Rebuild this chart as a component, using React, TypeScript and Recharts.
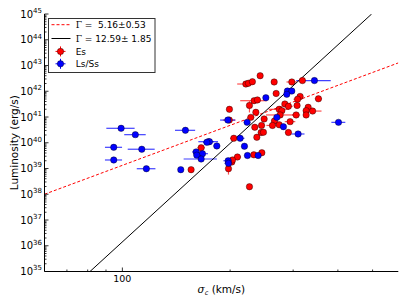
import React from 'react';
import { ComposedChart, XAxis, YAxis, Scatter, Line, ErrorBar, Legend } from 'recharts';

// ---- Es (red) ----
const esSigma = [242.6, 221.3, 225.0, 230.8, 265.5, 297.4, 318.4, 268.9, 233.4, 238.4, 313.7, 308.7, 353.0, 284.4, 291.0, 307.7, 226.5, 330.4, 199.1, 274.2, 278.9, 326.1, 340.0, 236.0, 275.9, 305.8, 326.1, 228.5, 248.9, 266.0, 294.2, 244.8, 262.6, 274.2, 234.4, 291.0, 244.2, 247.8, 237.5, 204.8, 198.9, 209.6, 232.9, 245.3, 202.2, 203.0, 197.9, 226.5, 166.0, 155.6];
const esLum = [4.0e42, 1.91e42, 2.04e42, 2.35e42, 2.29e42, 2.29e42, 2.6e42, 8.2e41, 4.3e41, 4.6e41, 6.3e41, 4.9e41, 5.1e41, 3.2e41, 2.6e41, 2.8e41, 2.8e41, 2.38e41, 1.99e41, 1.99e41, 1.76e41, 1.76e41, 1.7e41, 1.52e41, 1.2e41, 1.2e41, 1.2e41, 9.7e40, 8.4e40, 7.0e40, 6.6e40, 4.7e40, 4.7e40, 5.0e40, 4.0e40, 2.5e40, 2.5e40, 2.55e40, 1.63e40, 1.49e40, 7.6e40, 2.8e39, 3.4e39, 4.1e39, 1.79e39, 2.14e39, 9.8e38, 1.96e38, 6.4e39, 9.0e38];
const esSigmaErr = [4, 12, 5, 4, 5, 10, 4, 4, 20, 5, 6, 8, 8, 4, 8, 5, 2, 5, 3, 18, 6, 6, 20, 4, 24, 8, 6, 5, 5, 5, 10, 5, 10, 6, 4, 6, 4, 4, 4, 5, 8, 5, 4, 4, 4, 3, 2, 0, 4, 0];
const esLumErr = [0, 0, 0, 0, 0, 0, 0, 0, 0, 0, 0, 0, 0, 0, 0, 0, 1.3e41, 0, 0, 0, 0, 0, 0, 0, 0, 0, 0, 0, 0, 0, 0, 0, 0, 0, 0, 0, 0, 0, 0, 0, 0, 0, 0, 0, 0, 0, 4e38, 0, 0, 0];

// ---- Ls/Ss (blue) ----
const lsSigma = [99.2, 108.7, 94.6, 113.3, 94.6, 116.7, 150.0, 145.6, 174.0, 175.1, 172.2, 183.6, 160.7, 167.4, 161.4, 166.0, 197.5, 197.9, 197.1, 223.1, 251.7, 289.1, 297.4, 288.0, 344.0, 270.1, 281.8, 309.7, 213.3, 219.3, 223.6, 239.5, 401.6];
const lsLum = [3.64e40, 2.06e40, 6.65e39, 5.6e39, 2.14e39, 9.8e38, 3.04e40, 9.0e38, 1.1e40, 1.1e40, 1.04e40, 7.5e39, 4.4e39, 3.76e39, 3.3e39, 2.34e39, 2.0e39, 1.59e39, 7.6e40, 6.2e40, 5.6e41, 1.02e42, 1.02e42, 7.6e41, 2.6e42, 9.7e40, 4.2e40, 2.19e40, 1.49e40, 7.3e39, 3.2e39, 3.2e39, 6.2e40];
const lsSigmaErr = [9, 7.5, 5.2, 9.8, 5.2, 7, 9.7, 0, 11, 5, 4, 4, 4, 6, 3, 17.7, 6, 5, 9.6, 4.5, 4, 4, 4, 4, 38, 4, 5, 13, 6, 2, 4, 5, 18];

// ---- fits ----
const lowFitSigma = [60.6, 590];
const lowFitLum = [1.0e38, 1.26e43];
const highFitSigma = [81.2, 497];
const highFitLum = [1e35, 1e45];

// ---- axes ----
const xDomain = [60.6, 590];
const yDomain = [1e35, 1e45];
const xMajorTicks = [100];
const xMinorTicks = [70, 80, 90, 200, 300, 400, 500];
const yDecades = [35, 36, 37, 38, 39, 40, 41, 42, 43, 44, 45];
const yMinorMultipliers = [2, 3, 4, 5, 6, 7, 8, 9];

const xTicks = [...xMinorTicks.slice(0, 3), ...xMajorTicks, ...xMinorTicks.slice(3)];
const yTicks: number[] = [];
yDecades.forEach((d, i) => {
  yTicks.push(Number(`1e${d}`));
  if (i < yDecades.length - 1) yMinorMultipliers.forEach((m) => yTicks.push(Number(`${m}e${d}`)));
});

const esData = esSigma.map((s, i) => ({ sigma: s, lum: esLum[i], sErr: esSigmaErr[i], lErr: esLumErr[i] }));
const lsData = lsSigma.map((s, i) => ({ sigma: s, lum: lsLum[i], sErr: lsSigmaErr[i] }));
const lowFit = lowFitSigma.map((s, i) => ({ sigma: s, lum: lowFitLum[i] }));
const highFit = highFitSigma.map((s, i) => ({ sigma: s, lum: highFitLum[i] }));

const FONT = 'DejaVu Sans';

const isMajorY = (v: number) => {
  const e = Math.log10(v);
  return Math.abs(e - Math.round(e)) < 1e-6;
};

const BottomTick = (p: any) => {
  const { x, y, payload } = p;
  const major = xMajorTicks.includes(payload.value);
  return (
    <g>
      <line x1={x} x2={x} y1={y} y2={y - (major ? 4 : 2)} stroke="#000" strokeWidth={0.8} />
      {major && (
        <text x={x} y={y + 10.5} textAnchor="middle" fontSize={9.5} fontFamily={FONT} fill="#000">
          {payload.value}
        </text>
      )}
    </g>
  );
};
const TopTick = (p: any) => {
  const { x, y, payload } = p;
  const major = xMajorTicks.includes(payload.value);
  return <line x1={x} x2={x} y1={y} y2={y + (major ? 4 : 2)} stroke="#000" strokeWidth={0.8} />;
};
const LeftTick = (p: any) => {
  const { x, y, payload } = p;
  const v = payload.value as number;
  const major = isMajorY(v);
  const exp = Math.round(Math.log10(v));
  return (
    <g>
      <line x1={x} x2={x + (major ? 4 : 2)} y1={y} y2={y} stroke="#000" strokeWidth={0.8} />
      {major && (
        <text x={x - 2.5} y={y + 3.7} textAnchor="end" fontSize={10} fontFamily={FONT} fill="#000">
          10
          <tspan dy={-4.8} fontSize={7}>{exp}</tspan>
        </text>
      )}
    </g>
  );
};
const RightTick = (p: any) => {
  const { x, y, payload } = p;
  const major = isMajorY(payload.value);
  return <line x1={x} x2={x - (major ? 4 : 2)} y1={y} y2={y} stroke="#000" strokeWidth={0.8} />;
};

const XLabel = (p: any) => {
  const vb = p.viewBox;
  return (
    <text x={vb.x + vb.width / 2} y={vb.y + 21.5} textAnchor="middle" fontSize={10.5} fontFamily={FONT} fill="#000">
      <tspan fontStyle="italic" fontFamily="DejaVu Serif">σ</tspan>
      <tspan fontSize={6.5} dy={2} fontStyle="italic">c</tspan>
      <tspan dy={-2} style={{ whiteSpace: 'pre' }}> (km/s)</tspan>
    </text>
  );
};
const YLabel = (p: any) => {
  const vb = p.viewBox;
  const cx = vb.x + 14;
  const cy = vb.y + vb.height / 2;
  return (
    <text transform={`translate(${cx},${cy}) rotate(-90)`} x={0} y={4} textAnchor="middle" fontSize={10.5} fontFamily={FONT} fill="#000">
      Luminosity (erg/s)
    </text>
  );
};

const Dot = (color: string) => (p: any) => (
  <circle cx={p.cx} cy={p.cy} r={3.2} fill={color} stroke="#000" strokeWidth={0.4} />
);

const LegendBox = () => (
  <svg width={109} height={56} style={{ display: 'block' }}>
    <rect x={0.5} y={0.5} width={106.5} height={54} fill="#fff" stroke="#333" strokeWidth={1} />
    <line x1={3.5} x2={22.5} y1={6.7} y2={6.7} stroke="#ff0000" strokeWidth={1} strokeDasharray="3 2" />
    <text x={27.7} y={9.9} fontSize={9} fontFamily={FONT} fill="#000" style={{ whiteSpace: 'pre' }}>
      <tspan fontFamily="DejaVu Serif">Γ</tspan>{' =  5.16±0.53'}
    </text>
    <line x1={3.5} x2={22.5} y1={20.5} y2={20.5} stroke="#000" strokeWidth={1} />
    <text x={27.7} y={23.7} fontSize={9} fontFamily={FONT} fill="#000" style={{ whiteSpace: 'pre' }}>
      <tspan fontFamily="DejaVu Serif">Γ</tspan>{' = 12.59± 1.85'}
    </text>
    <line x1={7.5} x2={17.5} y1={33.4} y2={33.4} stroke="#ff0000" strokeWidth={1} />
    <line x1={12.5} x2={12.5} y1={28.4} y2={38.4} stroke="#ff0000" strokeWidth={1} />
    <circle cx={12.5} cy={33.4} r={3.2} fill="#ff0000" stroke="#000" strokeWidth={0.4} />
    <text x={27.7} y={36.6} fontSize={9} fontFamily={FONT} fill="#000">Es</text>
    <line x1={7.5} x2={17.5} y1={45.8} y2={45.8} stroke="#0000ff" strokeWidth={1} />
    <line x1={12.5} x2={12.5} y1={40.8} y2={50.8} stroke="#0000ff" strokeWidth={1} />
    <circle cx={12.5} cy={45.8} r={3.2} fill="#0000ff" stroke="#000" strokeWidth={0.4} />
    <text x={27.7} y={49} fontSize={9} fontFamily={FONT} fill="#000">Ls/Ss</text>
  </svg>
);

export default function App() {
  return (
    <div style={{ position: 'absolute', left: 0, top: 0, width: 407, height: 305, background: '#fff' }}>
      <ComposedChart width={407} height={305} margin={{ top: 14, right: 8.7, bottom: 0, left: 0 }}>
        <XAxis
          dataKey="sigma"
          type="number"
          scale="log"
          domain={xDomain}
          allowDataOverflow
          ticks={xTicks}
          interval={0}
          tickLine={false}
          tickSize={0}
          tickMargin={0}
          tick={<BottomTick />}
          height={33.5}
          axisLine={{ stroke: '#000', strokeWidth: 1 }}
          label={{ value: 'σc (km/s)', content: XLabel }}
        />
        <XAxis
          xAxisId="top"
          orientation="top"
          dataKey="sigma"
          type="number"
          scale="log"
          domain={xDomain}
          allowDataOverflow
          ticks={xTicks}
          interval={0}
          tickLine={false}
          tickSize={0}
          tickMargin={0}
          tick={<TopTick />}
          height={0}
          axisLine={{ stroke: '#000', strokeWidth: 1 }}
        />
        <YAxis
          dataKey="lum"
          type="number"
          scale="log"
          domain={yDomain}
          allowDataOverflow
          ticks={yTicks}
          interval={0}
          tickLine={false}
          tickSize={0}
          tickMargin={0}
          tick={<LeftTick />}
          width={44.5}
          axisLine={{ stroke: '#000', strokeWidth: 1 }}
          label={{ value: 'Luminosity (erg/s)', content: YLabel }}
        />
        <YAxis
          yAxisId="right"
          orientation="right"
          dataKey="lum"
          type="number"
          scale="log"
          domain={yDomain}
          allowDataOverflow
          ticks={yTicks}
          interval={0}
          tickLine={false}
          tickSize={0}
          tickMargin={0}
          tick={<RightTick />}
          width={0}
          axisLine={{ stroke: '#000', strokeWidth: 1 }}
        />
        <Scatter name="Es" data={esData} dataKey="lum" shape={Dot('#ff0000')} isAnimationActive={false}>
          <ErrorBar dataKey="sErr" direction="x" width={0} stroke="#ff0000" strokeOpacity={0.7} strokeWidth={1.2} />
          <ErrorBar dataKey="lErr" direction="y" width={0} stroke="#ff0000" strokeOpacity={0.7} strokeWidth={1.2} />
        </Scatter>
        <Scatter name="Ls/Ss" data={lsData} dataKey="lum" shape={Dot('#0000ff')} isAnimationActive={false}>
          <ErrorBar dataKey="sErr" direction="x" width={0} stroke="#0000ff" strokeOpacity={0.75} strokeWidth={1.2} />
        </Scatter>
        <Line data={lowFit} dataKey="lum" type="linear" stroke="#ff0000" strokeWidth={1} strokeDasharray="3 2" dot={false} activeDot={false} isAnimationActive={false} />
        <Line data={highFit} dataKey="lum" type="linear" stroke="#000" strokeWidth={1} dot={false} activeDot={false} isAnimationActive={false} />
        <Legend
          layout="vertical"
          align="center"
          verticalAlign="middle"
          content={() => <LegendBox />}
          wrapperStyle={{ position: 'absolute', left: 48, top: 18, width: 109, height: 56 }}
        />
      </ComposedChart>
    </div>
  );
}
